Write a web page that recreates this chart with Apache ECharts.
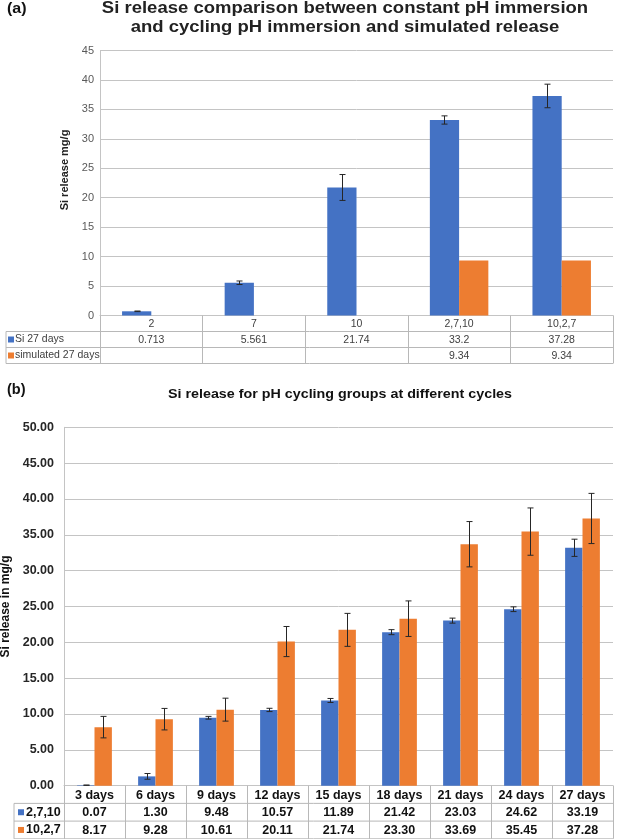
<!DOCTYPE html>
<html>
<head>
<meta charset="utf-8">
<script src="https://cdn.jsdelivr.net/npm/echarts@6/dist/echarts.min.js"></script>
<style>
html,body{margin:0;padding:0;background:#fff;}
#c{width:617px;height:839px;}
</style>
</head>
<body>
<div id="c"></div>
<script>
// ---------- DATA ----------
// Chart (a)
const catsA = ['2', '7', '10', '2,7,10', '10,2,7'];
const siA = [0.713, 5.561, 21.74, 33.2, 37.28];
const siAErr = [0.05, 0.3, 2.2, 0.7, 2.0];
const simA = [null, null, null, 9.34, 9.34];
const seriesNamesA = ['Si 27 days', 'simulated 27 days'];
const titleA1 = 'Si release comparison between constant pH immersion';
const titleA2 = 'and cycling pH immersion and simulated release';
const yNameA = 'Si release mg/g';

// Chart (b)
const catsB = ['3 days', '6 days', '9 days', '12 days', '15 days', '18 days', '21 days', '24 days', '27 days'];
const s2710 = [0.07, 1.30, 9.48, 10.57, 11.89, 21.42, 23.03, 24.62, 33.19];
const s2710Err = [0.02, 0.4, 0.19, 0.23, 0.28, 0.35, 0.35, 0.33, 1.2];
const s1027 = [8.17, 9.28, 10.61, 20.11, 21.74, 23.30, 33.69, 35.45, 37.28];
const s1027Err = [1.5, 1.5, 1.6, 2.1, 2.3, 2.48, 3.16, 3.3, 3.5];
const seriesNamesB = ['2,7,10', '10,2,7'];
const titleB = 'Si release for pH cycling groups at different cycles';
const yNameB = 'Si release in mg/g';

// ---------- STYLE / LAYOUT ----------
const FONT = "'Liberation Sans', Arial, sans-serif";
const BLUE = '#4472C4', ORANGE = '#ED7D31';
const GRID = '#c4c4c4', TABLE = '#b8b8b8';
const W = 617, H = 839;
const GAP = 0.43; // barCategoryGap fraction

// grid A
const aL = 100, aR = 613, aTop = 50.5, aBase = 315.5, aRow = 16;
// grid B
const bL = 64, bR = 613, bTop = 427.3, bBase = 785.7, bRow = 17.7;

function errRender(sign) {
  return function (params, api) {
    const x = api.value(0), lo = api.value(1), hi = api.value(2);
    const p0 = api.coord([x, lo]);
    const p1 = api.coord([x, hi]);
    const band = api.size([1, 0])[0];
    const cx = Math.round(p0[0] + sign * band * (1 - GAP) / 4) + 0.5;
    const cap = 3;
    const st = { stroke: '#262626', lineWidth: 1 };
    return {
      type: 'group',
      children: [
        { type: 'line', shape: { x1: cx, y1: p0[1], x2: cx, y2: p1[1] }, style: st },
        { type: 'line', shape: { x1: cx - cap, y1: p1[1], x2: cx + cap, y2: p1[1] }, style: st },
        { type: 'line', shape: { x1: cx - cap, y1: p0[1], x2: cx + cap, y2: p0[1] }, style: st }
      ]
    };
  };
}
function errData(vals, errs) {
  const out = [];
  vals.forEach((v, i) => { if (v != null) out.push([i, v - errs[i], v + errs[i]]); });
  return out;
}

function rowAxis(gridIndex, cats, offset, labels, fontStyle) {
  return {
    type: 'category', gridIndex, data: cats, position: 'bottom', offset,
    axisLine: { show: false }, axisTick: { show: false }, splitLine: { show: false },
    axisLabel: Object.assign({
      interval: 0, margin: fontStyle.margin,
      formatter: (v, i) => labels[i]
    }, fontStyle.text)
  };
}

const textA = { fontFamily: FONT, fontSize: 10.5, color: '#404040' };
const textB = { fontFamily: FONT, fontSize: 12.5, fontWeight: 'bold', color: '#111' };

const fmtA = arr => arr.map(v => v == null ? '' : String(v));
const fmtB = arr => arr.map(v => v.toFixed(2));

const chart = echarts.init(document.getElementById('c'), null, { renderer: 'canvas', width: W, height: H });

function hline(x1, x2, y) {
  return { type: 'line', silent: true, shape: { x1, y1: y, x2, y2: y }, style: { stroke: TABLE, lineWidth: 1 } };
}
function vline(x, y1, y2) {
  return { type: 'line', silent: true, shape: { x1: x, y1, x2: x, y2 }, style: { stroke: TABLE, lineWidth: 1 } };
}
function legendCell(x, y, color, name, font, gap) {
  return [
    { type: 'rect', silent: true, shape: { x: x, y: y - 3, width: 6, height: 6 }, style: { fill: color } },
    { type: 'text', silent: true, x: x + gap, y: y, style: Object.assign({ text: name, textVerticalAlign: 'middle', textAlign: 'left' }, font) }
  ];
}

const aTL = 6, bTL = 14;
const graphics = [
  // titles
  { type: 'text', x: 7, y: 9, scaleY: 0.9, style: { text: '(a)', font: 'bold 16px ' + FONT, fill: '#111', textVerticalAlign: 'middle' } },
  { type: 'text', x: 345, y: 9, scaleY: 0.86, style: { text: titleA1, font: 'bold 18.5px ' + FONT, fill: '#222', textAlign: 'center', textVerticalAlign: 'middle' } },
  { type: 'text', x: 345, y: 28, scaleY: 0.86, style: { text: titleA2, font: 'bold 18.5px ' + FONT, fill: '#222', textAlign: 'center', textVerticalAlign: 'middle' } },
  { type: 'text', x: 7, y: 390, style: { text: '(b)', font: 'bold 14.5px ' + FONT, fill: '#111', textVerticalAlign: 'middle' } },
  { type: 'text', x: 340, y: 394, scaleY: 0.95, style: { text: titleB, font: 'bold 14.3px ' + FONT, fill: '#111', textAlign: 'center', textVerticalAlign: 'middle' } },
  // table A frame
  hline(aTL, aR, aBase + aRow), hline(aTL, aR, aBase + 2 * aRow), hline(aTL, aR, aBase + 3 * aRow),
  vline(aTL, aBase + aRow, aBase + 3 * aRow),
  // table B frame
  hline(bTL, bR, bBase + bRow), hline(bTL, bR, bBase + 2 * bRow), hline(bTL, bR, bBase + 3 * bRow),
  vline(bTL, bBase + bRow, bBase + 3 * bRow)
].concat(
  legendCell(aTL + 2, aBase + 1.5 * aRow, BLUE, seriesNamesA[0], { font: '10.5px ' + FONT, fill: '#404040' }, 7),
  legendCell(aTL + 2, aBase + 2.5 * aRow, ORANGE, seriesNamesA[1], { font: '10.5px ' + FONT, fill: '#404040' }, 7),
  legendCell(bTL + 4, bBase + 1.5 * bRow, BLUE, seriesNamesB[0], { font: 'bold 12.5px ' + FONT, fill: '#111' }, 8),
  legendCell(bTL + 4, bBase + 2.5 * bRow, ORANGE, seriesNamesB[1], { font: 'bold 12.5px ' + FONT, fill: '#111' }, 8)
);

const option = {
  animation: false,
  backgroundColor: '#fff',
  grid: [
    { left: aL, width: aR - aL, top: aTop, height: aBase - aTop, containLabel: false, outerBoundsMode: 'none' },
    { left: bL, width: bR - bL, top: bTop, height: bBase - bTop, containLabel: false, outerBoundsMode: 'none' }
  ],
  xAxis: [
    {
      type: 'category', gridIndex: 0, data: catsA, position: 'bottom',
      axisLine: { lineStyle: { color: GRID } },
      axisTick: { show: true, interval: 0, alignWithLabel: false, length: 3 * aRow, lineStyle: { color: TABLE } },
      axisLabel: Object.assign({ interval: 0, margin: 2.8 }, textA)
    },
    rowAxis(0, catsA, aRow, fmtA(siA), { margin: 2.8, text: textA }),
    rowAxis(0, catsA, 2 * aRow, fmtA(simA), { margin: 2.8, text: textA }),
    {
      type: 'category', gridIndex: 1, data: catsB, position: 'bottom',
      axisLine: { lineStyle: { color: GRID } },
      axisTick: { show: true, interval: 0, alignWithLabel: false, length: 3 * bRow, lineStyle: { color: TABLE } },
      axisLabel: Object.assign({ interval: 0, margin: 3 }, textB)
    },
    rowAxis(1, catsB, bRow, fmtB(s2710), { margin: 3, text: textB }),
    rowAxis(1, catsB, 2 * bRow, fmtB(s1027), { margin: 3, text: textB })
  ],
  yAxis: [
    {
      type: 'value', gridIndex: 0, min: 0, max: 45, interval: 5,
      name: yNameA, nameLocation: 'middle', nameGap: 29, nameRotate: 90,
      nameTextStyle: { fontFamily: FONT, fontSize: 11, fontWeight: 'bold', color: '#222', padding: [0, 0, 0, 26] },
      axisLine: { show: true, lineStyle: { color: GRID } },
      axisTick: { show: false },
      axisLabel: { fontFamily: FONT, fontSize: 11, color: '#595959', margin: 6 },
      splitLine: { lineStyle: { color: GRID } }
    },
    {
      type: 'value', gridIndex: 1, min: 0, max: 50, interval: 5,
      name: yNameB, nameLocation: 'middle', nameGap: 49, nameRotate: 90,
      nameTextStyle: { fontFamily: FONT, fontSize: 12, fontWeight: 'bold', color: '#111' },
      axisLine: { show: true, lineStyle: { color: GRID } },
      axisTick: { show: false },
      axisLabel: { fontFamily: FONT, fontSize: 12.5, fontWeight: 'bold', color: '#262626', margin: 10, formatter: v => v.toFixed(2) },
      splitLine: { lineStyle: { color: GRID } }
    }
  ],
  series: [
    { name: seriesNamesA[0], type: 'bar', xAxisIndex: 0, yAxisIndex: 0, data: siA, itemStyle: { color: BLUE }, barGap: '0%', barCategoryGap: (GAP * 100) + '%' },
    { name: seriesNamesA[1], type: 'bar', xAxisIndex: 0, yAxisIndex: 0, data: simA, itemStyle: { color: ORANGE }, barGap: '0%', barCategoryGap: (GAP * 100) + '%' },
    { type: 'custom', xAxisIndex: 0, yAxisIndex: 0, renderItem: errRender(-1), data: errData(siA, siAErr), encode: { x: 0, y: [1, 2] }, z: 5 },

    { name: seriesNamesB[0], type: 'bar', xAxisIndex: 3, yAxisIndex: 1, data: s2710, itemStyle: { color: BLUE }, barGap: '0%', barCategoryGap: (GAP * 100) + '%' },
    { name: seriesNamesB[1], type: 'bar', xAxisIndex: 3, yAxisIndex: 1, data: s1027, itemStyle: { color: ORANGE }, barGap: '0%', barCategoryGap: (GAP * 100) + '%' },
    { type: 'custom', xAxisIndex: 3, yAxisIndex: 1, renderItem: errRender(-1), data: errData(s2710, s2710Err), encode: { x: 0, y: [1, 2] }, z: 5 },
    { type: 'custom', xAxisIndex: 3, yAxisIndex: 1, renderItem: errRender(1), data: errData(s1027, s1027Err), encode: { x: 0, y: [1, 2] }, z: 5 }
  ],
  graphic: graphics
};
chart.setOption(option);
</script>
</body>
</html>
